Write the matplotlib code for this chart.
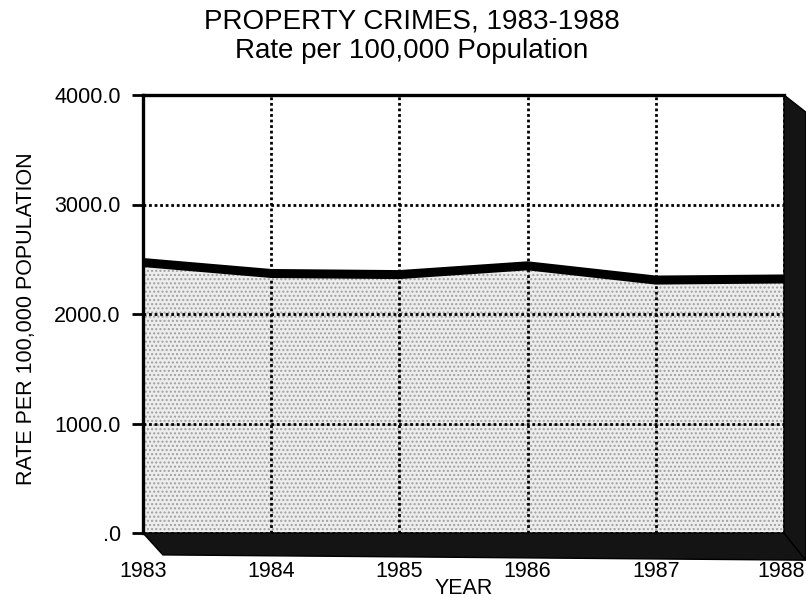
import matplotlib
matplotlib.use("Agg")
import matplotlib.pyplot as plt
from matplotlib.patches import Polygon
from matplotlib.transforms import ScaledTranslation

plt.rcParams['font.family'] = ['Liberation Sans', 'DejaVu Sans']

# data
years = [1983, 1984, 1985, 1986, 1987, 1988]
rate = [2470, 2370, 2360, 2440, 2310, 2320]
y_ticks = [0, 1000, 2000, 3000, 4000]
y_tick_labels = ['.0', '1000.0', '2000.0', '3000.0', '4000.0']

W, H = 806, 598
fig = plt.figure(figsize=(W / 100, H / 100), dpi=100)
ax = fig.add_axes([143/W, 65/H, 641/W, 438/H])

# stippled area under the line
ax.fill_between(years, 0, rate, facecolor='#ededed', edgecolor='#a0a0a0',
                hatch='....', linewidth=0, zorder=1)
ax.plot(years, rate, color='black', lw=6.5, solid_joinstyle='round',
        solid_capstyle='butt', zorder=3)

ax.set_xlim(1983, 1988)
ax.set_ylim(0, 4000)
ax.set_xticks(years)
ax.set_yticks(y_ticks)
ax.set_yticklabels(y_tick_labels)
ax.grid(True, color='black', linestyle=(0, (1, 1)), lw=2, zorder=2)
ax.set_axisbelow(False)

for s in ['right', 'bottom']:
    ax.spines[s].set_visible(False)
ax.spines['left'].set_linewidth(2.4)
ax.spines['top'].set_linewidth(2.4)

ax.tick_params(axis='x', length=0, pad=20, labelsize=15.5)
ax.tick_params(axis='y', length=8, width=2, direction='out', pad=8, labelsize=15.5)

# last year label sits right at the page edge, nudge it in a little
last = ax.get_xticklabels()[-1]
last.set_transform(last.get_transform() + ScaledTranslation(-3/100, 0, fig.dpi_scale_trans))

# 3d-looking floor and right wall
floor = Polygon([(0, 0), (1, 0), (1.034, -0.062), (0.031, -0.05)],
                closed=True, transform=ax.transAxes, clip_on=False,
                facecolor='#141414', edgecolor='black', zorder=4)
wall = Polygon([(1, 1), (1.034, 0.961), (1.034, -0.062), (1, 0)],
               closed=True, transform=ax.transAxes, clip_on=False,
               facecolor='#141414', edgecolor='black', zorder=4)
ax.add_patch(floor)
ax.add_patch(wall)

fig.text(464/W, 1 - 588/H, 'YEAR', ha='center', va='center', fontsize=15.5)
fig.text(27/W, 1 - 319/H, 'RATE PER 100,000 POPULATION', ha='center', va='center',
         rotation=90, fontsize=15.5)

fig.text(412/W, 1 - 21/H, 'PROPERTY CRIMES, 1983-1988', ha='center', va='center', fontsize=20)
fig.text(412/W, 1 - 51/H, 'Rate per 100,000 Population', ha='center', va='center', fontsize=20)

fig.savefig('out.png', dpi=100)
